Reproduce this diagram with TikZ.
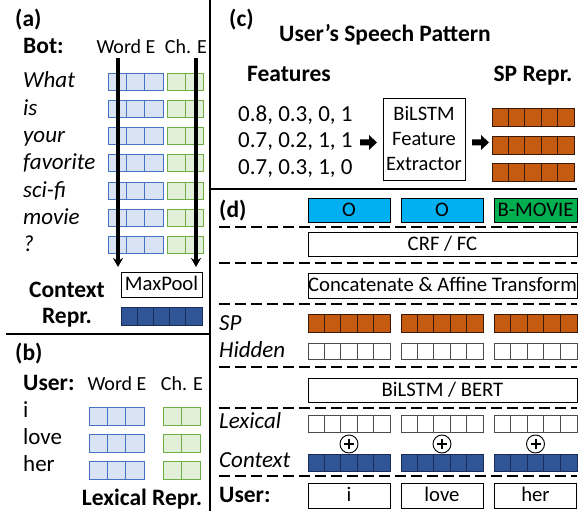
\documentclass[tikz,border=0pt]{standalone}
\usepackage{fontspec}
\setmainfont{Carlito}
\usetikzlibrary{arrows.meta}
\definecolor{wordfill}{HTML}{DAE3F3}
\definecolor{wordline}{HTML}{4472C4}
\definecolor{charfill}{HTML}{E2F0D9}
\definecolor{charline}{HTML}{70AD47}
\definecolor{ctxfill}{HTML}{2F5597}
\definecolor{ctxline}{HTML}{1A2D5A}
\definecolor{spfill}{HTML}{C55A11}
\definecolor{spline}{HTML}{3A1A05}
\definecolor{ofill}{HTML}{00B0F0}
\definecolor{bfill}{HTML}{00B050}
\newcommand{\cellrow}[7]{%
 \pgfmathsetmacro{\cw}{(#3-#1)/#5}%
 \foreach \k in {1,...,#5}{%
   \filldraw[fill=#6,draw=#7,line width=0.9pt] ({#1+(\k-1)*\cw},#2) rectangle ({#1+\k*\cw},#4);}%
}
\tikzset{
 wordlab/.style={font=\fontsize{23}{27}\selectfont\itshape, anchor=base west, inner sep=0},
 plainlab/.style={font=\fontsize{23}{27}\selectfont, anchor=base west, inner sep=0},
 emblab/.style={font=\fontsize{20}{24}\selectfont, anchor=base, inner sep=0},
 hd/.style={font=\fontsize{23.5}{27}\selectfont\bfseries, anchor=base, inner sep=0},
 hdw/.style={font=\fontsize{23.5}{27}\selectfont\bfseries, anchor=base west, inner sep=0},
 txtbox/.style={draw, line width=0.9pt, inner sep=0, font=\fontsize{20.7}{24}\selectfont, text height=12.5pt, text depth=0pt},
 sepline/.style={line width=1.8pt, dash pattern=on 11pt off 5pt},
 frameline/.style={line width=1.8pt},
 vecarrow/.style={line width=3.4pt, -{Stealth[length=9pt,width=10pt]}},
 plus/.style={draw, circle, line width=0.9pt, minimum size=18pt, inner sep=0}
}
\begin{document}
\begin{tikzpicture}[x=1pt,y=-1pt]
\useasboundingbox (0,0) rectangle (582,511);
% frame
\draw[frameline, line width=2.2pt] (210,0) -- (210,511);
\draw[frameline] (6,334) -- (210,334);
\draw[frameline] (210,189) -- (577,189);

% ---------- (a)
\node[hdw] (la) at (15,27) {(a)};
\node[hdw] (bot) at (23,54) {Bot:};
\node[emblab] (wordE) at (126,54) {Word E};
\node[emblab] (chE) at (186,54) {Ch. E};
\foreach \w [count=\i from 0] in {What,is,your,favorite,sci-fi,movie,?} {
  \pgfmathsetmacro{\ty}{73+27.3*\i}
  \node[wordlab] (w\i) at (23,\ty+15) {\w};
  \cellrow{108}{\ty}{163}{\ty+17}{3}{wordfill}{wordline}
  \cellrow{167}{\ty}{203}{\ty+17}{2}{charfill}{charline}
}
\node[txtbox, minimum width=81pt, minimum height=25pt] (maxpool) at (161.5,284.5) {MaxPool};
\coordinate (a1s) at (118,58);
\coordinate (a2s) at (196,58);
\coordinate (a1e) at (118,267);
\coordinate (a2e) at (196,267);
\draw[vecarrow] (a1s) -- (a1e);
\draw[vecarrow] (a2s) -- (a2e);
\node[hd] (ctx) at (67,297) {Context};
\node[hd] (ctxr) at (67,323) {Repr.};
\cellrow{121}{307}{202}{325}{5}{ctxfill}{ctxline}

% ---------- (b)
\node[hdw] (lb) at (15,360) {(b)};
\node[hdw] (user) at (23,390) {User:};
\node[emblab] (wordE2) at (117,390) {Word E};
\node[emblab] (chE2) at (182,390) {Ch. E};
\foreach \w [count=\i from 0] in {i,love,her} {
  \pgfmathsetmacro{\ty}{407+27*\i}
  \node[plainlab] (u\i) at (23,\ty+10.5) {\w};
  \cellrow{89}{\ty}{144}{\ty+18}{3}{wordfill}{wordline}
  \cellrow{163}{\ty}{200}{\ty+18}{2}{charfill}{charline}
}
\node[hd] (lexr) at (142,505) {Lexical Repr.};

% ---------- (c)
\node[hdw] (lc) at (229,27) {(c)};
\node[hd] (title) at (385,42) {User’s Speech Pattern};
\node[hd] (feat) at (289,82) {Features};
\node[hd] (spr) at (533,82) {SP Repr.};
\node[plainlab] (f1) at (238,122) {0.8, 0.3, 0, 1};
\node[plainlab] (f2) at (238,148) {0.7, 0.2, 1, 1};
\node[plainlab] (f3) at (238,175) {0.7, 0.3, 1, 0};
\node[draw, line width=0.9pt, inner sep=0, minimum width=82pt, minimum height=82pt, align=center,
      font=\fontsize{20.5}{25}\selectfont] (fx) at (424,139) {BiLSTM\\Feature\\Extractor};
\fill (360,139.5) -- (369,139.5) -- (369,135) -- (377,142.5) -- (369,150) -- (369,145.5) -- (360,145.5) -- cycle;
\fill (472,139.5) -- (481,139.5) -- (481,135) -- (489,142.5) -- (481,150) -- (481,145.5) -- (472,145.5) -- cycle;
\cellrow{492}{108}{574}{126}{5}{spfill}{spline}
\cellrow{492}{136}{574}{154}{5}{spfill}{spline}
\cellrow{492}{163}{574}{181}{5}{spfill}{spline}

% ---------- (d)
\node[hdw] (ld) at (219,217) {(d)};
\node[txtbox, fill=ofill, minimum width=82pt, minimum height=24pt] (o1) at (349,210) {O};
\node[txtbox, fill=ofill, minimum width=82pt, minimum height=24pt] (o2) at (442,210) {O};
\node[txtbox, fill=bfill, minimum width=83pt, minimum height=24pt] (o3) at (535.5,210) {B-MOVIE};
\foreach \yy in {227,263,304,367,408,476} \draw[sepline] (219,\yy) -- (577,\yy);
\node[txtbox, minimum width=269pt, minimum height=24pt] (crf) at (442.5,244) {CRF / FC};
\node[txtbox, minimum width=269pt, minimum height=25pt] (cat) at (442.5,285.5) {Concatenate \& Affine Transform};
\node[wordlab] (spl) at (219,330) {SP};
\node[wordlab] (hidl) at (219,357) {Hidden};
\node[txtbox, minimum width=269pt, minimum height=24pt] (bert) at (442.5,390) {BiLSTM / BERT};
\node[wordlab] (lexl) at (219,428) {Lexical};
\node[wordlab] (ctxl) at (219,467) {Context};
\node[hdw] (userl) at (219,502) {User:};
\foreach \xa/\xb/\xc/\w [count=\i] in {308/390/349/i,401/483/442/love,494/577/535.5/her} {
  \cellrow{\xa}{314}{\xb}{332}{5}{spfill}{spline}
  \cellrow{\xa}{343}{\xb}{359}{5}{white}{black!70}
  \cellrow{\xa}{415}{\xb}{432}{5}{white}{black!70}
  \cellrow{\xa}{454}{\xb}{471}{5}{ctxfill}{ctxline}
  \node[plus, fill=white] (p\i) at (\xc,444) {};
  \draw[line width=2pt] ([xshift=-5pt]p\i.center) -- ([xshift=5pt]p\i.center);
  \draw[line width=2pt] ([yshift=-5pt]p\i.center) -- ([yshift=5pt]p\i.center);
  \node[txtbox, minimum width=82pt, minimum height=25pt] (t\i) at (\xc,495.5) {\w};
}
\end{tikzpicture}
\end{document}
